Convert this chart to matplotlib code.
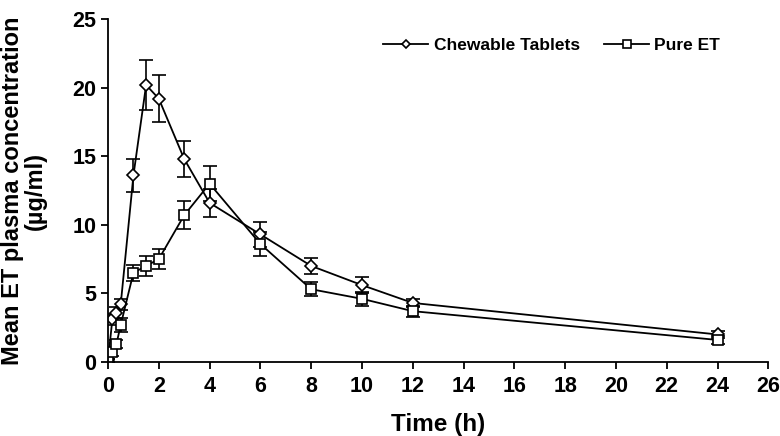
import matplotlib.pyplot as plt

plt.rcParams['font.family'] = ['Liberation Sans', 'DejaVu Sans']
plt.rcParams['font.weight'] = 'bold'

# time points (h)
time = [0, 0.17, 0.33, 0.5, 1, 1.5, 2, 3, 4, 6, 8, 10, 12, 24]

chewable = [0.1, 3.1, 3.6, 4.2, 13.6, 20.2, 19.2, 14.8, 11.6, 9.3, 7.0, 5.6, 4.3, 2.0]
chewable_sd = [0.1, 0.4, 0.4, 0.4, 1.2, 1.8, 1.7, 1.3, 1.0, 0.9, 0.6, 0.6, 0.3, 0.25]

pure = [0.1, 0.7, 1.3, 2.7, 6.5, 7.0, 7.5, 10.7, 13.0, 8.6, 5.3, 4.6, 3.7, 1.6]
pure_sd = [0.1, 0.3, 0.3, 0.5, 0.6, 0.7, 0.7, 1.0, 1.3, 0.9, 0.5, 0.5, 0.4, 0.3]

fig = plt.figure(figsize=(7.8, 4.36), dpi=100)
ax = fig.add_axes([0.1385, 0.170, 0.8465, 0.786])

ax.errorbar(time, chewable, yerr=chewable_sd, color='black', lw=1.3,
            marker='D', markersize=6, mfc='white', mec='black', mew=1.2,
            capsize=5, elinewidth=1.2, capthick=1.2, label='Chewable Tablets')
ax.errorbar(time, pure, yerr=pure_sd, color='black', lw=1.3,
            marker='s', markersize=7, mfc='white', mec='black', mew=1.2,
            capsize=5, elinewidth=1.2, capthick=1.2, label='Pure ET')

ax.set_xlim(0, 26)
ax.set_ylim(0, 25)
ax.set_xticks(range(0, 27, 2))
ax.set_yticks(range(0, 26, 5))
ax.spines['top'].set_visible(False)
ax.spines['right'].set_visible(False)
ax.spines['left'].set_linewidth(1.3)
ax.spines['bottom'].set_linewidth(1.3)
ax.tick_params(direction='out', length=5, width=1.3, labelsize=15.5)
ax.tick_params(axis='x', pad=5)

ax.set_xlabel('Time (h)', fontsize=17.5, fontweight='bold', labelpad=12)
ax.set_ylabel('Mean ET plasma concentration\n(\u00b5g/ml)', fontsize=17,
              fontweight='bold', labelpad=18, linespacing=1.0)

handles, labels = ax.get_legend_handles_labels()
handles = [h[0] for h in handles]
ax.legend(handles, labels, loc='upper center', bbox_to_anchor=(0.672, 0.99),
          ncol=2, frameon=False, handlelength=2.6, markerscale=0.75,
          columnspacing=1.4, handletextpad=0.3,
          prop={'weight': 'bold', 'size': 12.5})

fig.savefig('out.png', dpi=100)
